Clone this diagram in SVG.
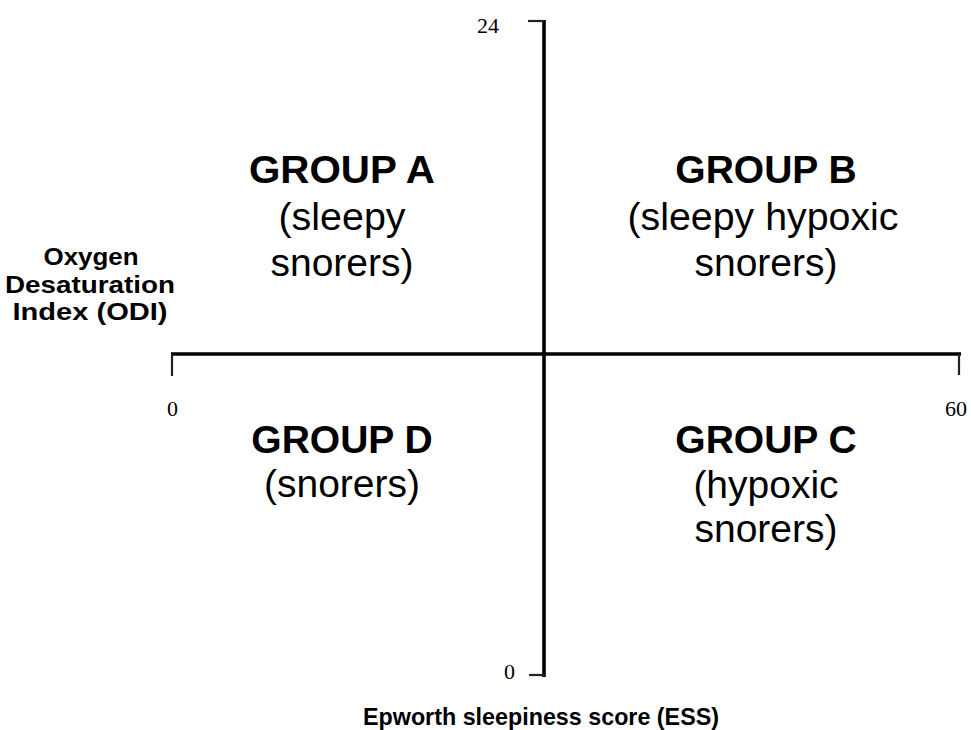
<svg xmlns="http://www.w3.org/2000/svg" width="971" height="730" viewBox="0 0 971 730">
<style>
.ax{stroke:#000;stroke-width:3.6;fill:none}
.tk{stroke:#222;stroke-width:2.2;fill:none}
.num{font-family:"Liberation Serif",serif;font-size:22px;fill:#000}
.grp{font-family:"Liberation Sans",Arial,sans-serif;font-size:39px;font-weight:bold;fill:#000;text-anchor:middle}
.sub{font-family:"Liberation Sans",Arial,sans-serif;font-size:39px;fill:#000;text-anchor:middle}
.lab{font-family:"Liberation Sans",Arial,sans-serif;font-size:24px;font-weight:bold;fill:#000;text-anchor:middle}
</style>
<rect width="971" height="730" fill="#fff"/>
<g id="axes">
<line class="ax" x1="544" y1="20" x2="544" y2="677"/>
<line class="tk" x1="528" y1="21" x2="544" y2="21"/>
<line class="tk" x1="529" y1="675" x2="544" y2="675"/>
<line class="ax" x1="171" y1="354" x2="961" y2="354"/>
<line class="tk" x1="172" y1="354" x2="172" y2="376"/>
<line class="tk" x1="959" y1="354" x2="959" y2="375"/>
<text class="num" x="477" y="33" font-size="23">24</text>
<text class="num" x="167" y="416">0</text>
<text class="num" x="945" y="416">60</text>
<text class="num" x="504" y="679">0</text>
</g>
<g id="groupA">
<text class="grp" x="342" y="183" textLength="186" lengthAdjust="spacingAndGlyphs">GROUP A</text>
<text class="sub" x="342" y="230" textLength="127" lengthAdjust="spacingAndGlyphs">(sleepy</text>
<text class="sub" x="342" y="276">snorers)</text>
</g>
<g id="groupB">
<text class="grp" x="766" y="183">GROUP B</text>
<text class="sub" x="763" y="230" textLength="271" lengthAdjust="spacingAndGlyphs">(sleepy hypoxic</text>
<text class="sub" x="766" y="276">snorers)</text>
</g>
<g id="groupD">
<text class="grp" x="342" y="453">GROUP D</text>
<text class="sub" x="342" y="497">(snorers)</text>
</g>
<g id="groupC">
<text class="grp" x="766" y="453">GROUP C</text>
<text class="sub" x="766" y="498">(hypoxic</text>
<text class="sub" x="766" y="542">snorers)</text>
</g>
<g id="odi">
<text class="lab" x="91" y="265" textLength="95" lengthAdjust="spacingAndGlyphs">Oxygen</text>
<text class="lab" x="90" y="293" textLength="170" lengthAdjust="spacingAndGlyphs">Desaturation</text>
<text class="lab" x="90" y="320" textLength="155" lengthAdjust="spacingAndGlyphs">Index (ODI)</text>
</g>
<g id="ess">
<text class="lab" x="541" y="725" textLength="356" lengthAdjust="spacingAndGlyphs">Epworth sleepiness score (ESS)</text>
</g>
</svg>
